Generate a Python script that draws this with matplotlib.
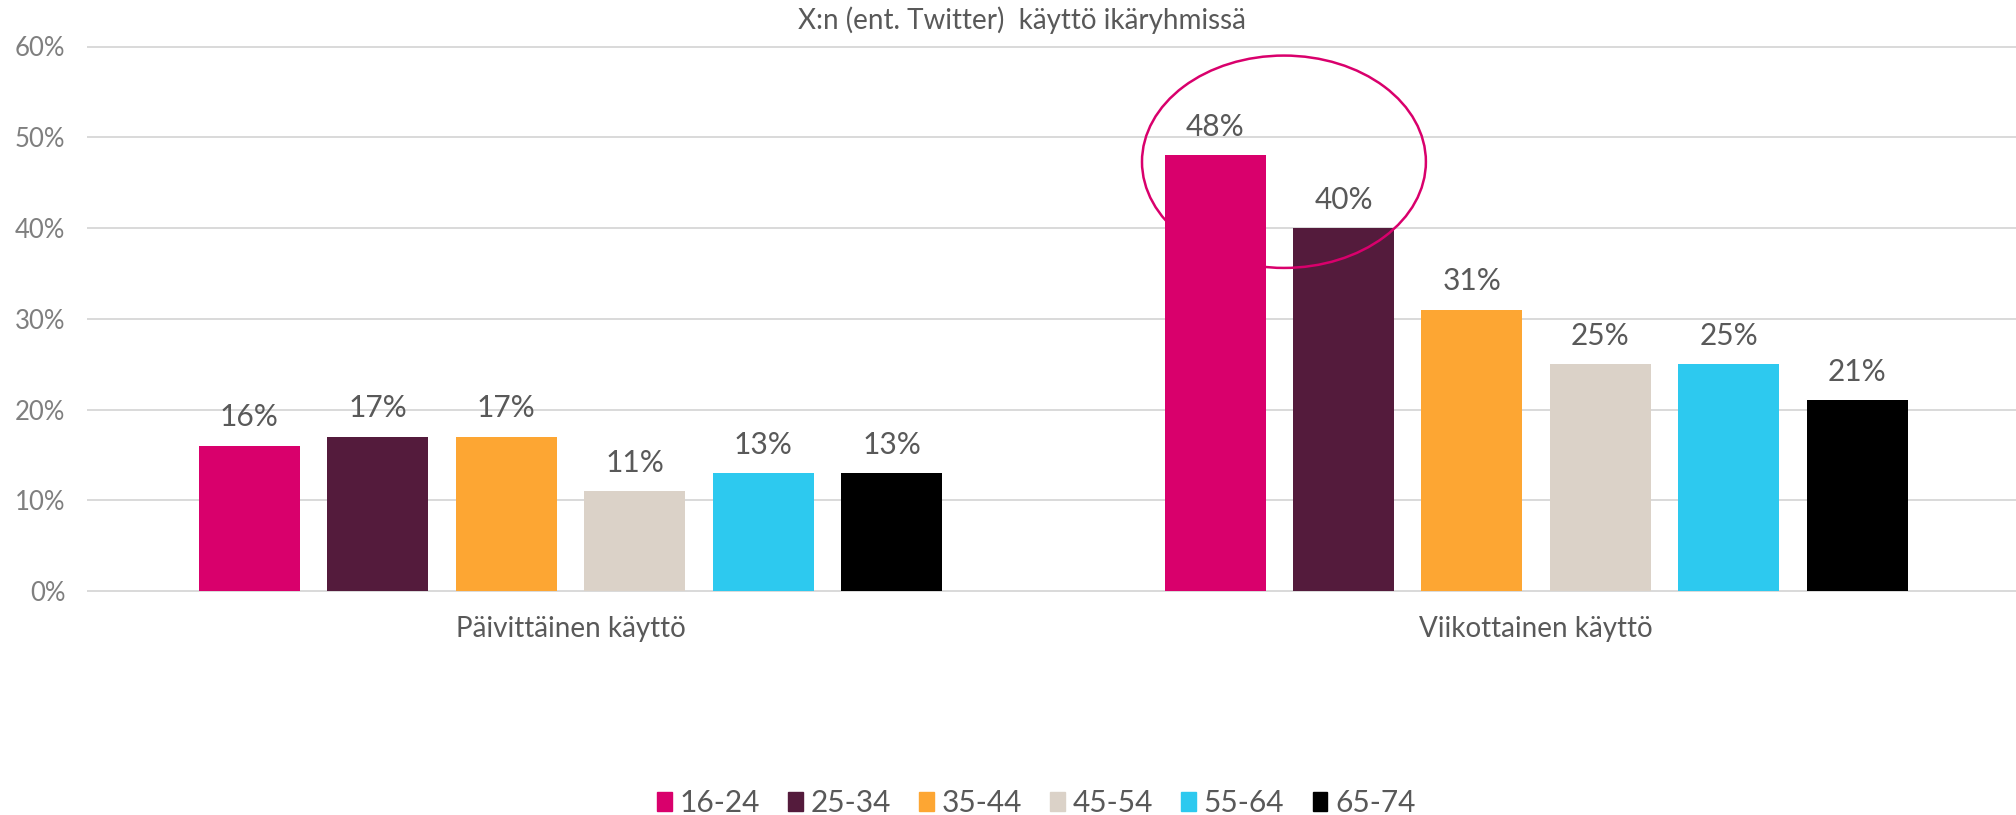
import matplotlib
matplotlib.use("Agg")
import matplotlib.pyplot as plt
from matplotlib.patches import Ellipse, Patch
import numpy as np

plt.rcParams['font.family'] = ['Lato', 'DejaVu Sans']

title = "X:n (ent. Twitter)  käyttö ikäryhmissä"
categories = ["Päivittäinen käyttö", "Viikottainen käyttö"]
age_groups = ["16-24", "25-34", "35-44", "45-54", "55-64", "65-74"]
values = {
    "16-24": [16, 48],
    "25-34": [17, 40],
    "35-44": [17, 31],
    "45-54": [11, 25],
    "55-64": [13, 25],
    "65-74": [13, 21],
}
colors = ["#D9006C", "#541B3C", "#FDA633", "#DBD2C8", "#2DC9EF", "#000000"]
yticks = [0, 10, 20, 30, 40, 50, 60]

W, H = 2016, 815
fig = plt.figure(figsize=(W / 100, H / 100), dpi=100)
ax = fig.add_axes([87.7 / W, 1 - 591.0 / H, 1 - 87.7 / W, (591.0 - 46.5) / H])

x = np.arange(len(categories))
bw = 0.1046
step = 0.133
for i, (g, c) in enumerate(zip(age_groups, colors)):
    off = (i - 2.5) * step
    ax.bar(x + off, values[g], width=bw, color=c, zorder=3)
    for xi, v in zip(x + off, values[g]):
        ax.annotate(f"{v}%", (xi, v), xytext=(0, 14), textcoords="offset points",
                    ha="center", va="baseline", fontsize=21.5, color="#595959")

ax.set_xlim(-0.5, 1.4969)
ax.set_ylim(0, 60)
ax.set_yticks(yticks)
ax.set_yticklabels([f"{t}%" for t in yticks], fontsize=18.5, color="#7F7F7F")
ax.set_xticks(x)
ax.set_xticklabels(categories, fontsize=20, color="#595959")
ax.tick_params(axis="both", length=0)
ax.tick_params(axis="y", pad=16)
ax.tick_params(axis="x", pad=18)
for s in ax.spines.values():
    s.set_visible(False)
ax.yaxis.grid(True, color="#D9D9D9", linewidth=1.4, zorder=0)
for gl in ax.get_ygridlines():
    gl.set_clip_on(False)
ax.set_axisbelow(True)

ell = Ellipse((0.7388, 47.3), 0.294, 23.4, fill=False, edgecolor="#D9006C",
              linewidth=1.8, zorder=5)
ax.add_patch(ell)

fig.text(1022 / W, 1 - 20 / H, title, ha="center", va="center", fontsize=20, color="#595959")

handles = [Patch(facecolor=c, edgecolor=c) for c in colors]
fig.legend(handles, age_groups, loc="center", bbox_to_anchor=(1036 / W, 1 - 803 / H),
           ncol=6, frameon=False, fontsize=21.5, labelcolor="#595959",
           handlelength=0.5, handleheight=0.6, handletextpad=0.25, columnspacing=0.95)

fig.savefig("out.png", dpi=100)
